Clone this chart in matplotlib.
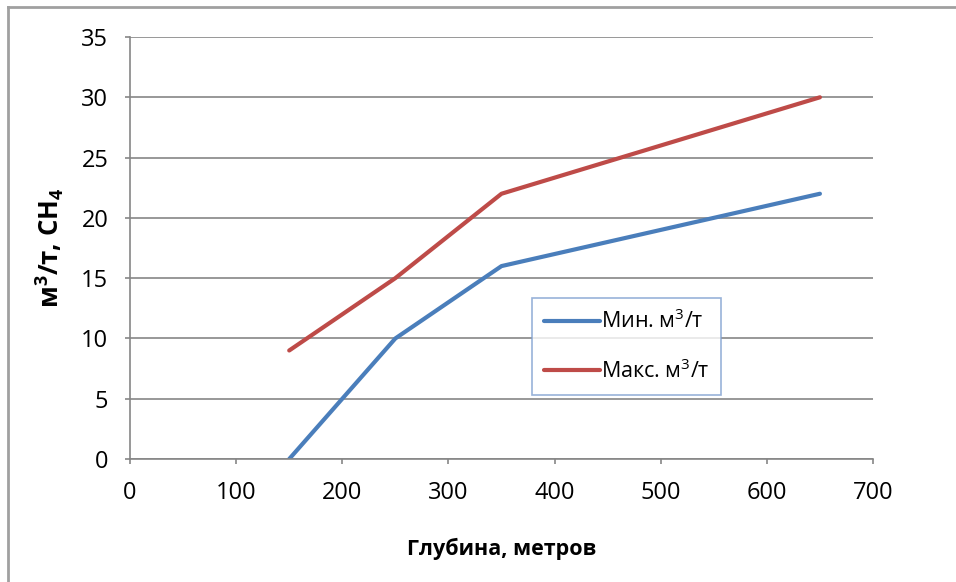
import matplotlib
matplotlib.use("Agg")
import matplotlib.pyplot as plt
from matplotlib.lines import Line2D

plt.rcParams['font.family'] = ['Open Sans', 'DejaVu Sans']
plt.rcParams['mathtext.default'] = 'regular'

depth = [150, 250, 350, 650]
gas_min = [0, 10, 16, 22]
gas_max = [9, 15, 22, 30]
labels = ["Мин. м$^3$/т", "Макс. м$^3$/т"]

_BLUE = "#4a7ebb"
_RED = "#be4b48"
_GRID = "#868686"

fig = plt.figure(figsize=(9.56, 5.82), dpi=100)
ax = fig.add_axes([130 / 956, 1 - 459 / 582, 743 / 956, 422 / 582])

ax.plot(depth, gas_min, color=_BLUE, lw=3.0, solid_capstyle="round", label=labels[0])
ax.plot(depth, gas_max, color=_RED, lw=3.0, solid_capstyle="round", label=labels[1])

ax.set_xlim(0, 700)
ax.set_ylim(0, 35)
ax.set_xticks(range(0, 701, 100))
ax.set_yticks(range(0, 36, 5))
ax.grid(axis="y", color=_GRID, lw=1.2)
ax.set_axisbelow(True)
for s in ("top", "right"):
    ax.spines[s].set_visible(False)
for s in ("left", "bottom"):
    ax.spines[s].set_color(_GRID)
    ax.spines[s].set_linewidth(1.2)
ax.tick_params(length=3.6, width=1.2, color=_GRID, labelsize=17, pad=12)

ax.set_xlabel("Глубина, метров", fontsize=15.5, fontweight="bold", labelpad=24)
ax.set_ylabel("м$^3$/т, CH$_4$", fontsize=18.5, fontweight="bold", labelpad=11)

leg = ax.legend(loc="upper left", bbox_to_anchor=(402 / 743, 1 - (298 - 37) / 422),
                fontsize=15.5, frameon=True, fancybox=False, handlelength=2.6,
                handletextpad=0.05, borderpad=0.55, labelspacing=1.2, borderaxespad=0,
                handleheight=0.7)
leg.get_frame().set_edgecolor("#7f9fcf")
leg.get_frame().set_linewidth(1.2)

# outer chart border (only top and left edges are inside the picture)
fig.add_artist(Line2D([8 / 956, 8 / 956], [0, 1 - 7 / 582], color="#a0a0a0", lw=2,
                      transform=fig.transFigure))
fig.add_artist(Line2D([8 / 956, 1], [1 - 7 / 582, 1 - 7 / 582], color="#a0a0a0", lw=2,
                      transform=fig.transFigure))

fig.savefig("out.png", dpi=100)
